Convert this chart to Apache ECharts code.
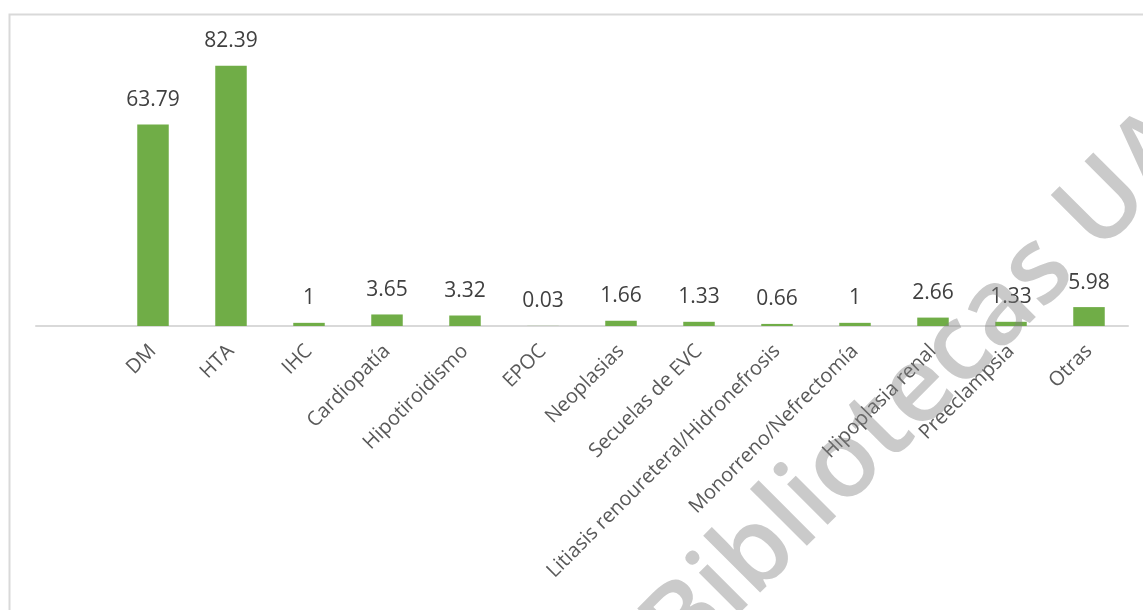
<!DOCTYPE html>
<html>
<head>
<meta charset="utf-8">
<script src="https://cdn.jsdelivr.net/npm/echarts@6/dist/echarts.min.js"></script>
<style>
html,body{margin:0;padding:0;background:#fff;}
#chart{width:1143px;height:610px;}
</style>
</head>
<body>
<div id="chart"></div>
<script>
const categories = ['', 'DM', 'HTA', 'IHC', 'Cardiopatía', 'Hipotiroidismo', 'EPOC', 'Neoplasias', 'Secuelas de EVC', 'Litiasis renoureteral/Hidronefrosis', 'Monorreno/Nefrectomía', 'Hipoplasia renal', 'Preeclampsia', 'Otras'];
const values = [null, 63.79, 82.39, 1, 3.65, 3.32, 0.03, 1.66, 1.33, 0.66, 1, 2.66, 1.33, 5.98];
const watermark = 'Bibliotecas UA';

const chart = echarts.init(document.getElementById('chart'), null, {renderer: 'canvas'});
chart.setOption({
  animation: false,
  backgroundColor: '#ffffff',
  grid: {left: 36, right: 15, top: 41.6, bottom: 284, containLabel: false},
  xAxis: {
    type: 'category',
    data: categories,
    axisLine: {lineStyle: {color: '#d9d9d9', width: 2}},
    axisTick: {show: false},
    axisLabel: {rotate: 45, interval: 0, margin: 22, fontFamily: 'Open Sans', fontSize: 20, color: '#595959'}
  },
  yAxis: {type: 'value', min: 0, max: 90, show: false, splitLine: {show: false}},
  series: [{
    type: 'bar',
    data: values,
    barWidth: 31.5,
    itemStyle: {color: '#70ad47'},
    label: {show: true, position: 'top', distance: 14, fontFamily: 'Open Sans', fontSize: 21, color: '#404040'}
  }],
  graphic: [
    {type: 'rect', left: 7, top: 12, z: 0, silent: true,
     shape: {x: 0, y: 0, width: 1200, height: 700},
     style: {fill: 'none', stroke: '#d9d9d9', lineWidth: 2}},
    {type: 'text', x: 922, y: 388, rotation: Math.PI / 4, z: 100, silent: true,
     style: {text: watermark, fontFamily: 'Open Sans', fontWeight: 600, fontSize: 106, fill: 'rgba(128,128,128,0.42)', align: 'center', verticalAlign: 'middle'}}
  ]
});
</script>
</body>
</html>
